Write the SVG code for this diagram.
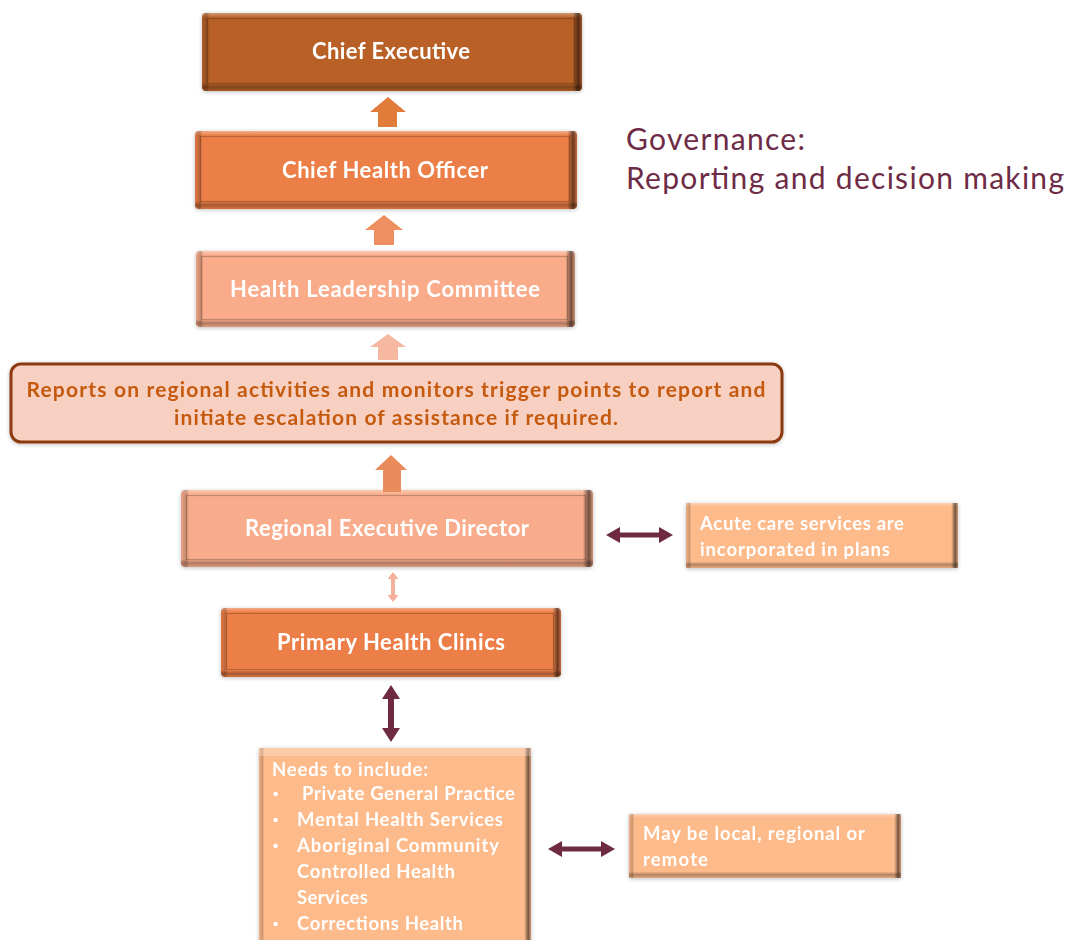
<svg xmlns="http://www.w3.org/2000/svg" width="1068" height="940" viewBox="0 0 1068 940">
<defs>
<linearGradient id="gv" x1="0" y1="0" x2="0" y2="1">
<stop offset="0" stop-color="#fff" stop-opacity="0.35"/>
<stop offset="0.06" stop-color="#fff" stop-opacity="0"/>
<stop offset="0.90" stop-color="#000" stop-opacity="0"/>
<stop offset="0.95" stop-color="#000" stop-opacity="0.3"/>
<stop offset="1" stop-color="#000" stop-opacity="0.08"/>
</linearGradient>
<linearGradient id="gh" x1="0" y1="0" x2="1" y2="0">
<stop offset="0" stop-color="#000" stop-opacity="0.05"/>
<stop offset="0.012" stop-color="#000" stop-opacity="0.2"/>
<stop offset="0.02" stop-color="#000" stop-opacity="0"/>
<stop offset="0.975" stop-color="#000" stop-opacity="0"/>
<stop offset="0.99" stop-color="#000" stop-opacity="0.55"/>
<stop offset="1" stop-color="#000" stop-opacity="0.15"/>
</linearGradient>
<filter id="sh" x="-5%" y="-10%" width="110%" height="125%">
<feGaussianBlur in="SourceAlpha" stdDeviation="2"/>
<feOffset dx="0" dy="1"/>
<feComponentTransfer><feFuncA type="linear" slope="0.25"/></feComponentTransfer>
<feMerge><feMergeNode/><feMergeNode in="SourceGraphic"/></feMerge>
</filter>
</defs>
<style>
.lbl{font-family:Lato,"Liberation Sans",sans-serif;font-weight:bold;font-size:22px;fill:#fff;text-anchor:middle}
.sm{font-family:Lato,"Liberation Sans",sans-serif;font-weight:bold;font-size:18.5px;fill:#fff}
.bul{font-family:"Liberation Sans",sans-serif;font-weight:bold;font-size:15px;fill:#fff}
.rep{font-family:Lato,"Liberation Sans",sans-serif;font-weight:bold;font-size:21px;fill:#C55A11;text-anchor:middle}
.gov{font-family:Lato,"Liberation Sans",sans-serif;font-size:30px;fill:#6E2B45}
.ov1{fill:url(#gv)}
.ov2{fill:url(#gh)}
.inner{fill:none;stroke:#000;stroke-opacity:0.22;stroke-width:1.2}
.dark{fill:#6D2A41}
</style>
<rect width="1068" height="940" fill="#fff"/>

<g id="governance-title">
<text class="gov" x="626" y="150" textLength="179">Governance:</text>
<text class="gov" x="626" y="189" textLength="438">Reporting and decision making</text>
</g>

<g id="chief-executive" filter="url(#sh)">
<rect x="202" y="13" width="380" height="78" rx="4" fill="#B86128"/>
<rect x="202" y="13" width="380" height="78" rx="4" class="ov1"/>
<rect x="202" y="13" width="380" height="78" rx="4" class="ov2"/>
<rect x="207.5" y="18.5" width="367" height="65" class="inner"/>
<text class="lbl" x="391" y="59" textLength="158">Chief Executive</text>
</g>

<g id="chief-health-officer" filter="url(#sh)">
<rect x="195" y="131" width="382" height="78" rx="4" fill="#EC7F47"/>
<rect x="195" y="131" width="382" height="78" rx="4" class="ov1"/>
<rect x="195" y="131" width="382" height="78" rx="4" class="ov2"/>
<rect x="200.5" y="136.5" width="369" height="65" class="inner"/>
<text class="lbl" x="385" y="178" textLength="206">Chief Health Officer</text>
</g>

<g id="health-leadership-committee" filter="url(#sh)">
<rect x="196" y="251" width="379" height="76" rx="4" fill="#F9AB8A"/>
<rect x="196" y="251" width="379" height="76" rx="4" class="ov1"/>
<rect x="196" y="251" width="379" height="76" rx="4" class="ov2"/>
<rect x="201.5" y="256.5" width="366" height="63" class="inner"/>
<text class="lbl" x="385" y="297" textLength="310">Health Leadership Committee</text>
</g>

<g id="reports" filter="url(#sh)">
<rect x="11" y="364" width="771" height="78" rx="10" fill="#F7D0C2" stroke="#8B3A0F" stroke-width="3"/>
<text class="rep" x="396" y="397" textLength="739">Reports on regional activities and monitors trigger points to report and</text>
<text class="rep" x="396" y="425" textLength="444">initiate escalation of assistance if required.</text>
</g>

<g id="regional-executive-director" filter="url(#sh)">
<rect x="181" y="490" width="412" height="77" rx="4" fill="#F8AC8B"/>
<rect x="181" y="490" width="412" height="77" rx="4" class="ov1"/>
<rect x="181" y="490" width="412" height="77" rx="4" class="ov2"/>
<rect x="186.5" y="495.5" width="399" height="64" class="inner"/>
<text class="lbl" x="387" y="536" textLength="284">Regional Executive Director</text>
</g>

<g id="acute-care" filter="url(#sh)">
<rect x="686" y="503" width="272" height="65" fill="#FDBA8B"/>
<rect x="686" y="503" width="272" height="65" class="ov1"/>
<rect x="686" y="503" width="272" height="65" class="ov2"/>
<text class="sm" x="700" y="530" textLength="204">Acute care services are</text>
<text class="sm" x="700" y="556" textLength="190">incorporated in plans</text>
</g>

<g id="primary-health-clinics" filter="url(#sh)">
<rect x="221" y="608" width="340" height="69" rx="4" fill="#EC7F47"/>
<rect x="221" y="608" width="340" height="69" rx="4" class="ov1"/>
<rect x="221" y="608" width="340" height="69" rx="4" class="ov2"/>
<rect x="226.5" y="613.5" width="327" height="56" class="inner"/>
<text class="lbl" x="391" y="650" textLength="228">Primary Health Clinics</text>
</g>

<g id="needs-to-include" filter="url(#sh)">
<rect x="259" y="748" width="272" height="200" fill="#FDBA8B"/>
<rect x="259" y="748" width="272" height="200" class="ov2"/>
<rect x="259" y="748" width="272" height="8" fill="#fff" opacity="0.25"/>
<text class="sm" x="272" y="776" textLength="156">Needs to include:</text>
<text class="bul" x="273" y="799">•</text>
<text class="sm" x="302" y="800" textLength="213">Private General Practice</text>
<text class="bul" x="273" y="825">•</text>
<text class="sm" x="297" y="826" textLength="206">Mental Health Services</text>
<text class="bul" x="273" y="851">•</text>
<text class="sm" x="297" y="852" textLength="202">Aboriginal Community</text>
<text class="sm" x="297" y="878" textLength="158">Controlled Health</text>
<text class="sm" x="297" y="904" textLength="71">Services</text>
<text class="bul" x="273" y="929">•</text>
<text class="sm" x="297" y="930" textLength="166">Corrections Health</text>
</g>

<g id="may-be-local" filter="url(#sh)">
<rect x="629" y="814" width="272" height="64" fill="#FDBA8B"/>
<rect x="629" y="814" width="272" height="64" class="ov1"/>
<rect x="629" y="814" width="272" height="64" class="ov2"/>
<text class="sm" x="643" y="840" textLength="222">May be local, regional or</text>
<text class="sm" x="643" y="866" textLength="65">remote</text>
</g>

<g id="connectors">
<path d="M388,97 L406,112 L397,112 L397,127 L378,127 L378,112 L370,112 Z" fill="#E07B39"/>
<path d="M384,215 L403,230 L394,230 L394,245 L374,245 L374,230 L365,230 Z" fill="#EE8F5F"/>
<path d="M388,334 L406,347 L398,347 L398,360 L378,360 L378,347 L370,347 Z" fill="#F6B8A0"/>
<path d="M391,455 L407,470 L401,470 L401,492 L383,492 L383,470 L375,470 Z" fill="#EA8B5C"/>
<path d="M393,572 L398.5,579 L395,579 L395,595 L398.5,595 L393,602 L387.5,595 L391,595 L391,579 L387.5,579 Z" fill="#F4B09A"/>
<path class="dark" d="M391,685 L400,699 L394,699 L394,728 L400,728 L391,742 L382,728 L388,728 L388,699 L382,699 Z"/>
<path class="dark" d="M606,535 L620,527 L620,532.5 L659,532.5 L659,527 L673,535 L659,543 L659,537.5 L620,537.5 L620,543 Z"/>
<path class="dark" d="M548,849 L562,841 L562,846.5 L601,846.5 L601,841 L615,849 L601,857 L601,851.5 L562,851.5 L562,857 Z"/>
</g>
</svg>
